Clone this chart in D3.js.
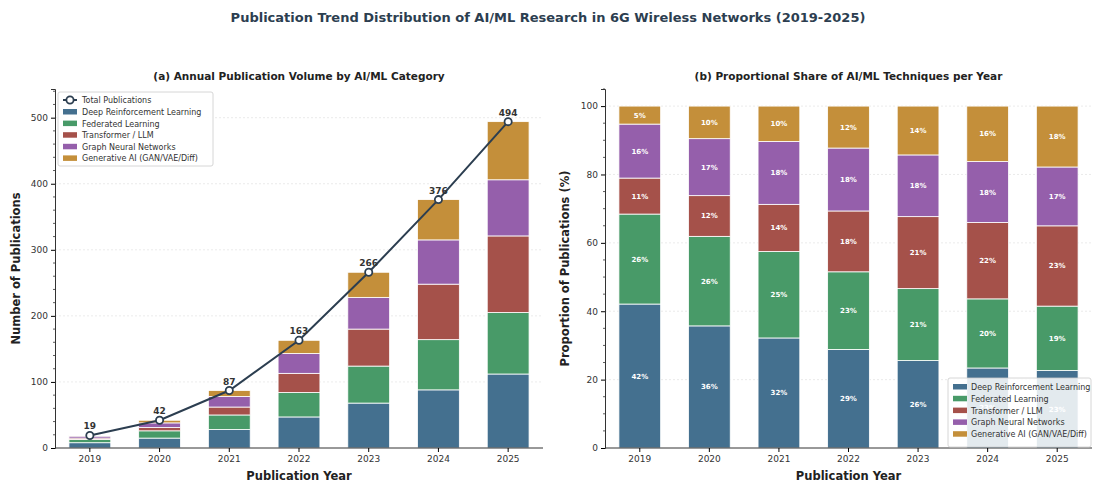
<!DOCTYPE html>
<html><head><meta charset="utf-8">
<script src="https://cdn.jsdelivr.net/npm/d3@7"></script>
<style>
body{margin:0;background:#fff;}
svg{display:block;font-family:"DejaVu Sans",sans-serif;}
</style></head><body>
<svg id="c" width="1096" height="483"></svg>
<script>
const years = ["2019","2020","2021","2022","2023","2024","2025"];
const categories = ["Deep Reinforcement Learning","Federated Learning","Transformer / LLM","Graph Neural Networks","Generative AI (GAN/VAE/Diff)"];
const drl = [8, 15, 28, 47, 68, 88, 112];
const fl  = [5, 11, 22, 37, 56, 76, 93];
const tf  = [2, 5, 12, 29, 56, 84, 116];
const gnn = [3, 7, 16, 30, 48, 67, 85];
const gen = [1, 4, 9, 20, 38, 61, 88];
const totals = [19, 42, 87, 163, 266, 376, 494];
const leftTicks = [0,100,200,300,400,500];
const rightTicks = [0,20,40,60,80,100];
const colors = ["#44708f","#489a68","#a5514a","#955fab","#c48f3a"];

const series = [drl, fl, tf, gnn, gen];
const rows = years.map((y,i)=>{const r={year:y}; categories.forEach((c,k)=>r[c]=series[k][i]); return r;});
const pctRows = years.map((y,i)=>{const t=d3.sum(series,s=>s[i]); const r={year:y}; categories.forEach((c,k)=>r[c]=series[k][i]/t*100); return r;});

const svg = d3.select("#c");
const dark = "#2c3e50";
svg.append("text").attr("x",548).attr("y",22).attr("text-anchor","middle")
  .attr("font-size",13).attr("font-weight","bold").attr("fill",dark)
  .text("Publication Trend Distribution of AI/ML Research in 6G Wireless Networks (2019-2025)");

function panel(opts){
  const {x0,x1,y0,y1,data,ymax,ticks,minorStep,title,ylabel,ylabX} = opts;
  const g = svg.append("g");
  const x = d3.scaleBand().domain(years).range([x0,x1]).paddingInner(0.4).paddingOuter(0.2);
  const y = d3.scaleLinear().domain([0,ymax]).range([y1,y0]);
  // grid
  g.append("g").selectAll("line").data(ticks.filter(t=>t>0)).join("line")
    .attr("x1",x0).attr("x2",x1).attr("y1",d=>y(d)).attr("y2",d=>y(d))
    .attr("stroke","#e2e2e2").attr("stroke-width",0.7).attr("stroke-dasharray","2,2");
  const stack = d3.stack().keys(categories)(data);
  const layers = g.append("g").selectAll("g").data(stack).join("g").attr("fill",(d,i)=>colors[i]);
  layers.selectAll("rect").data(d=>d).join("rect")
    .attr("x",d=>x(d.data.year)).attr("width",x.bandwidth())
    .attr("y",d=>y(d[1])).attr("height",d=>y(d[0])-y(d[1]))
    .attr("stroke","#fff").attr("stroke-width",0.8);
  // axes
  const ax = g.append("g").attr("transform",`translate(0,${y1})`)
    .call(d3.axisBottom(x).tickSize(4).tickPadding(4));
  ax.selectAll("text").attr("font-size",9).attr("fill","#333").attr("font-family","DejaVu Sans");
  ax.select(".domain").attr("d",`M${x0},0H${x1}`).attr("stroke","#333");
  const minor = d3.range(0,ymax+0.001,minorStep).filter(v=>!ticks.includes(v));
  g.append("g").attr("transform",`translate(${x0},0)`).selectAll("line").data(minor).join("line")
    .attr("x1",0).attr("x2",-2).attr("y1",d=>y(d)).attr("y2",d=>y(d)).attr("stroke","#333").attr("stroke-width",0.8);
  const ay = g.append("g").attr("transform",`translate(${x0},0)`)
    .call(d3.axisLeft(y).tickValues(ticks).tickSize(4).tickPadding(3));
  ay.selectAll("text").attr("font-size",9).attr("fill","#333").attr("font-family","DejaVu Sans");
  ay.select(".domain").attr("stroke","#333");
  g.append("text").attr("x",(x0+x1)/2).attr("y",80).attr("text-anchor","middle")
    .attr("font-size",10.5).attr("font-weight","bold").attr("fill","#222").text(title);
  g.append("text").attr("x",(x0+x1)/2).attr("y",480).attr("text-anchor","middle")
    .attr("font-size",11.5).attr("font-weight","bold").attr("fill","#222").text("Publication Year");
  g.append("text").attr("transform",`translate(${ylabX},${(y0+y1)/2}) rotate(-90)`).attr("text-anchor","middle")
    .attr("font-size",11.5).attr("font-weight","bold").attr("fill","#222").text(ylabel);
  return {g,x,y,stack};
}

// Left panel
const L = panel({x0:55,x1:543,y0:89,y1:448,data:rows,ymax:494*1.1,ticks:leftTicks,minorStep:20,
  title:"(a) Annual Publication Volume by AI/ML Category",ylabel:"Number of Publications",ylabX:20});
const line = d3.line().x((d,i)=>L.x(years[i])+L.x.bandwidth()/2).y(d=>L.y(d));
L.g.append("path").datum(totals).attr("d",line).attr("fill","none").attr("stroke",dark).attr("stroke-width",2);
L.g.selectAll("circle.tp").data(totals).join("circle").attr("class","tp")
  .attr("cx",(d,i)=>L.x(years[i])+L.x.bandwidth()/2).attr("cy",d=>L.y(d)).attr("r",3.6)
  .attr("fill","#fff").attr("stroke",dark).attr("stroke-width",1.8);
L.g.selectAll("text.tl").data(totals).join("text").attr("class","tl")
  .attr("x",(d,i)=>L.x(years[i])+L.x.bandwidth()/2).attr("y",d=>L.y(d)-6).attr("text-anchor","middle")
  .attr("font-size",9).attr("font-weight","bold").attr("fill","#333").text(d=>d);

// Left legend
const lg = svg.append("g").attr("transform","translate(58,92)");
lg.append("rect").attr("width",155).attr("height",74).attr("rx",2).attr("fill","#fff").attr("fill-opacity",0.9).attr("stroke","#ccc").attr("stroke-width",0.8);
lg.append("line").attr("x1",5).attr("x2",19).attr("y1",8).attr("y2",8).attr("stroke",dark).attr("stroke-width",2);
lg.append("circle").attr("cx",12).attr("cy",8).attr("r",3.6).attr("fill","#fff").attr("stroke",dark).attr("stroke-width",1.8);
lg.append("text").attr("x",24).attr("y",11).attr("font-size",8).attr("fill","#333").text("Total Publications");
categories.forEach((c,i)=>{
  const yy = 20 + i*11.6;
  lg.append("rect").attr("x",5).attr("y",yy-3).attr("width",14).attr("height",5.5).attr("fill",colors[i]);
  lg.append("text").attr("x",24).attr("y",yy+3).attr("font-size",8).attr("fill","#333").text(c);
});

// Right panel
const R = panel({x0:605,x1:1092,y0:89,y1:448,data:pctRows,ymax:105,ticks:rightTicks,minorStep:5,
  title:"(b) Proportional Share of AI/ML Techniques per Year",ylabel:"Proportion of Publications (%)",ylabX:569});
R.stack.forEach((layer,k)=>{
  R.g.append("g").selectAll("text").data(layer).join("text")
    .attr("x",d=>R.x(d.data.year)+R.x.bandwidth()/2).attr("y",d=>R.y((d[0]+d[1])/2)+2.5)
    .attr("text-anchor","middle").attr("font-size",7).attr("font-weight","bold").attr("fill","#fff")
    .text(d=>Math.round(d[1]-d[0])+"%");
});
const rg = svg.append("g").attr("transform","translate(948,378)");
rg.append("rect").attr("width",143).attr("height",69).attr("rx",2).attr("fill","#fff").attr("fill-opacity",0.85).attr("stroke","#ccc").attr("stroke-width",0.8);
categories.forEach((c,i)=>{
  const yy = 9 + i*11.8;
  rg.append("rect").attr("x",5).attr("y",yy-3).attr("width",14).attr("height",5.5).attr("fill",colors[i]);
  rg.append("text").attr("x",23).attr("y",yy+3).attr("font-size",8).attr("fill","#333").text(c);
});
</script></body></html>
